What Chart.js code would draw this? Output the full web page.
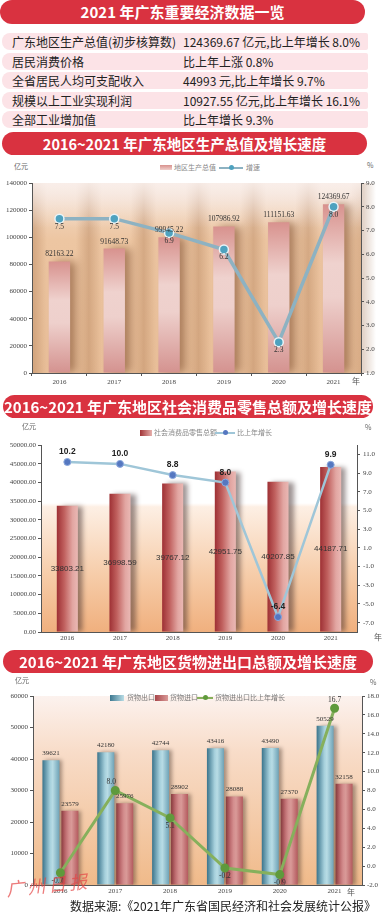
<!DOCTYPE html>
<html><head><meta charset="utf-8">
<script src="https://cdn.jsdelivr.net/npm/chart.js@4/dist/chart.umd.min.js"></script>
<style>
html,body{margin:0;padding:0;}
body{width:382px;height:914px;overflow:hidden;background:#fff;position:relative;font-family:"Noto Sans CJK SC","Noto Sans",sans-serif;}
.banner{position:absolute;background:#d93240;color:#fff;font-weight:bold;text-align:center;border-radius:12px;white-space:nowrap;}
.row{position:absolute;left:2px;width:366px;height:17px;line-height:17px;background:#fce3e7;border-radius:8px 2px 2px 8px;font-size:12px;color:#222;white-space:nowrap;}
.row .l{position:absolute;left:10px;top:0;}
.row .r{position:absolute;left:181px;top:0;}
.box{position:absolute;left:0;width:382px;}
.t{position:absolute;white-space:nowrap;color:#666;font-size:7px;line-height:9px;}
.sw{position:absolute;}
.ln{position:absolute;height:2px;}
.dot{position:absolute;border-radius:50%;}
</style></head>
<body>
<div class="banner" style="left:0;top:0;width:365px;height:24px;line-height:24px;font-size:15px;">2021 年广东重要经济数据一览</div>
<div class="row" style="top:33px;"><span class="l">广东地区生产总值(初步核算数)</span><span class="r">124369.67 亿元,比上年增长 8.0%</span></div>
<div class="row" style="top:52.5px;"><span class="l">居民消费价格</span><span class="r">比上年上涨 0.8%</span></div>
<div class="row" style="top:72px;"><span class="l">全省居民人均可支配收入</span><span class="r">44993 元,比上年增长 9.7%</span></div>
<div class="row" style="top:91.5px;"><span class="l">规模以上工业实现利润</span><span class="r">10927.55 亿元,比上年增长 16.1%</span></div>
<div class="row" style="top:111px;"><span class="l">全部工业增加值</span><span class="r">比上年增长 9.3%</span></div>

<div class="banner" style="left:2px;top:132px;width:365px;height:23px;line-height:23px;font-size:14.5px;">2016~2021 年广东地区生产总值及增长速度</div>
<div class="t" style="left:14px;top:162px;">亿元</div>
<div class="sw" style="left:160px;top:165px;width:12px;height:5px;background:linear-gradient(#d8918d,#f0d0cc);"></div>
<div class="t" style="left:174px;top:163px;color:#888;">地区生产总值</div>
<div class="ln" style="left:219px;top:167px;width:24px;background:#8db2c2;"></div>
<div class="dot" style="left:229px;top:165px;width:5px;height:5px;background:#4ea2bf;"></div>
<div class="t" style="left:246px;top:163px;color:#888;">增速</div>
<div class="t" style="left:367px;top:161px;">%</div>
<div class="box" id="b1" style="top:175px;height:217px;"><canvas id="c1"></canvas></div>
<div class="t" style="left:352px;top:376px;font-size:8px;color:#555;">年</div>

<div class="banner" style="left:3px;top:395px;width:370px;height:23px;line-height:23px;font-size:15px;">2016~2021 年广东地区社会消费品零售总额及增长速度</div>
<div class="t" style="left:22px;top:422px;">亿元</div>
<div class="sw" style="left:140px;top:430px;width:12px;height:6px;background:linear-gradient(90deg,#a23538,#e6b0ac);"></div>
<div class="t" style="left:154px;top:428px;color:#888;">社会消费品零售总额</div>
<div class="ln" style="left:215px;top:432px;width:20px;background:#9fc6d8;"></div>
<div class="dot" style="left:223px;top:430px;width:5px;height:5px;background:#5577c0;"></div>
<div class="t" style="left:237px;top:428px;color:#888;">比上年增长</div>
<div class="t" style="left:365px;top:423px;">%</div>
<div class="box" id="b2" style="top:438px;height:207px;"><canvas id="c2"></canvas></div>
<div class="t" style="left:374px;top:632px;font-size:8px;color:#555;">年</div>

<div class="banner" style="left:3px;top:650px;width:370px;height:23px;line-height:23px;font-size:15px;">2016~2021 年广东地区货物进出口总额及增长速度</div>
<div class="t" style="left:15px;top:676px;">亿元</div>
<div class="t" style="left:370px;top:678px;">%</div>
<div class="box" id="b3" style="top:688px;height:210px;"><canvas id="c3"></canvas></div>
<div class="sw" style="left:110px;top:695px;width:14px;height:6px;background:linear-gradient(90deg,#3d7890,#b9dde6);z-index:2;"></div>
<div class="t" style="left:127px;top:693px;color:#777;z-index:2;">货物出口</div>
<div class="sw" style="left:155px;top:695px;width:13px;height:6px;background:linear-gradient(90deg,#a8464a,#d99a98);z-index:2;"></div>
<div class="t" style="left:170px;top:693px;color:#777;z-index:2;">货物进口</div>
<div class="ln" style="left:197px;top:697px;width:16px;background:#86b05c;z-index:2;"></div>
<div class="dot" style="left:203px;top:695px;width:5px;height:5px;background:#5f9a3c;z-index:2;"></div>
<div class="t" style="left:215px;top:693px;color:#777;z-index:2;">货物进出口比上年增长</div>
<div class="t" style="left:347px;top:887px;font-size:8px;color:#555;">年</div>
<div class="t" style="left:6px;top:873px;font-size:18px;line-height:22px;color:rgba(228,70,70,0.7);font-style:italic;transform:rotate(-6deg);letter-spacing:3px;">广州日报</div>
<div class="t" style="left:70px;top:899px;font-size:12px;line-height:14px;color:#222;">数据来源:《2021年广东省国民经济和社会发展统计公报》</div>

<script>
// ---- data ----
const years = ['2016','2017','2018','2019','2020','2021'];
const gdpValues = [82163.22, 91648.73, 99945.22, 107986.92, 111151.63, 124369.67];
const gdpGrowth = [7.5, 7.5, 6.9, 6.2, 2.3, 8.0];
const retailValues = [33803.21, 36998.59, 39767.12, 42951.75, 40207.85, 44187.71];
const retailGrowth = [10.2, 10.0, 8.8, 8.0, -6.4, 9.9];
const exportValues = [39621, 42180, 42744, 43416, 43490, 50529];
const importValues = [23579, 25976, 28902, 28088, 27370, 32158];
const tradeGrowth = [-0.7, 8.0, 5.1, -0.2, -0.9, 16.7];
const retailRightTicks = [11, 9, 7, 5, 3, 1, -1, -3, -5, -7];

Chart.defaults.animation = false;
Chart.defaults.font.family = 'Liberation Serif';
Chart.defaults.font.size = 7;
Chart.defaults.color = '#444';

// ---- plugins ----
const labelPlugin = {
  id: 'vlabels',
  afterDatasetsDraw(chart) {
    const ctx = chart.ctx;
    chart.data.datasets.forEach((ds, i) => {
      const o = ds.vl; if (!o) return;
      const meta = chart.getDatasetMeta(i);
      meta.data.forEach((el, j) => {
        const txt = o.fmt(ds.data[j]);
        const pos = Array.isArray(o.pos) ? o.pos[j] : o.pos;
        const x = el.x + (o.dx ? o.dx[j] : 0);
        let y;
        if (pos === 'center') y = (el.y + el.base) / 2;
        else if (pos === 'above') y = el.y - o.off;
        else y = el.y + o.off;
        ctx.save();
        ctx.font = o.font; ctx.fillStyle = o.color;
        ctx.textAlign = 'center'; ctx.textBaseline = 'middle';
        ctx.fillText(txt, x, y);
        ctx.restore();
      });
    });
  }
};
const shadowPlugin = {
  id: 'barShadow',
  beforeDatasetDraw(chart, args) {
    const ds = chart.data.datasets[args.index];
    if (!ds.shadow) return;
    const c = chart.ctx; c.save();
    c.shadowColor = ds.shadow.color; c.shadowOffsetX = ds.shadow.x;
    c.shadowOffsetY = ds.shadow.y || 0; c.shadowBlur = ds.shadow.blur;
  },
  afterDatasetDraw(chart, args) {
    const ds = chart.data.datasets[args.index];
    if (!ds.shadow) return;
    chart.ctx.restore();
  }
};
function bgPlugin(stops, stripe) {
  return {
    id: 'bgfill',
    beforeDraw(chart) {
      const a = chart.chartArea; if (!a) return;
      const c = chart.ctx;
      const g = c.createLinearGradient(0, a.top, 0, a.bottom);
      stops.forEach(s => g.addColorStop(s[0], s[1]));
      c.save(); c.fillStyle = g; c.fillRect(a.left, a.top, a.right - a.left, a.bottom - a.top);
      if (stripe) {
        const xs = chart.scales.x;
        const n = years.length;
        const cw = xs.width / n;
        for (let i = 0; i <= n; i++) {
          const bx = xs.left + i * cw + stripe.shift;
          const w = stripe.width;
          const hg = c.createLinearGradient(bx - w / 2, 0, bx + w / 2, 0);
          hg.addColorStop(0, 'rgba(150,95,55,0)');
          hg.addColorStop(0.5, stripe.color);
          hg.addColorStop(1, 'rgba(150,95,55,0)');
          c.fillStyle = hg;
          c.fillRect(Math.max(a.left, bx - w / 2), a.top + stripe.topOff, w, a.bottom - a.top - stripe.topOff);
        }
        const tg = c.createLinearGradient(0, a.top, 0, a.top + 45);
        tg.addColorStop(0, 'rgba(250,240,236,0.85)');
        tg.addColorStop(1, 'rgba(250,240,236,0)');
        c.fillStyle = tg; c.fillRect(a.left, a.top, a.right - a.left, 45);
      }
      c.restore();
    }
  };
}
const fixW = w => (s => { s.width = w; });
const fixH = h => (s => { s.height = h; });

function axisY(opts) {
  return Object.assign({
    border: { display: true, color: '#555', width: 1 },
    grid: { drawOnChartArea: false, drawTicks: true, tickLength: 3, color: '#555' },
    ticks: { padding: 2, color: '#444', font: { size: 7 } }
  }, opts);
}

// ---- chart 1 ----
new Chart(document.getElementById('c1'), {
  data: {
    labels: years,
    datasets: [
      {
        type: 'line', label: '增速', data: gdpGrowth, yAxisID: 'y1', order: 0,
        borderColor: '#8db2c2', borderWidth: 3.5, tension: 0,
        pointRadius: 4.5, pointBackgroundColor: '#4ea2bf', pointBorderColor: '#e8f4f8', pointBorderWidth: 1.5,
        vl: { pos: 'below', off: 8, font: '7.5px "Liberation Serif"', color: '#333', fmt: v => v.toFixed(1) }
      },
      {
        type: 'bar', label: '地区生产总值', data: gdpValues, yAxisID: 'y', order: 1,
        categoryPercentage: 0.39, barPercentage: 1,
        backgroundColor: (ctx) => {
          const ch = ctx.chart; if (!ch.chartArea) return '#dca09c';
          const ys = ch.scales.y;
          const top = ys.getPixelForValue(gdpValues[ctx.dataIndex]);
          const base = ys.getPixelForValue(0);
          const g = ch.ctx.createLinearGradient(0, top, 0, base);
          g.addColorStop(0, '#d8928e'); g.addColorStop(0.35, '#efd2ce');
          g.addColorStop(0.55, '#eed0cc'); g.addColorStop(1, '#d4928f');
          return g;
        },
        shadow: { color: 'rgba(110,60,30,0.5)', x: 6, blur: 9 },
        vl: { pos: 'above', off: 7, font: '7.5px "Liberation Serif"', color: '#333', fmt: v => v.toFixed(2) }
      }
    ]
  },
  options: {
    responsive: true, maintainAspectRatio: false, devicePixelRatio: 1,
    layout: { padding: { top: 8, left: 0, right: 0, bottom: 0 } },
    plugins: { legend: { display: false }, tooltip: { enabled: false } },
    scales: {
      x: {
        afterFit: fixH(19),
        border: { display: true, color: '#555' },
        grid: { drawOnChartArea: false, drawTicks: true, tickLength: 3, color: '#555' },
        ticks: { padding: 2, color: '#444', font: { size: 7 } }
      },
      y: axisY({ position: 'left', min: 0, max: 140000, afterFit: fixW(32),
        ticks: { stepSize: 20000, padding: 2, color: '#444', font: { size: 7 }, callback: v => String(v) } }),
      y1: axisY({ position: 'right', min: 1, max: 9, afterFit: fixW(21),
        ticks: { stepSize: 1, padding: 2, color: '#444', font: { size: 7 }, callback: v => v.toFixed(1) } })
    }
  },
  plugins: [bgPlugin([[0, '#f3e2d8'], [0.15, '#f0d2b8'], [0.3, '#edc6a2'], [1, '#eac09a']],
                     { shift: 2, width: 26, color: 'rgba(150,95,55,0.28)', topOff: 0 }), shadowPlugin, labelPlugin]
});

// ---- chart 2 ----
new Chart(document.getElementById('c2'), {
  data: {
    labels: years,
    datasets: [
      {
        type: 'line', label: '比上年增长', data: retailGrowth, yAxisID: 'y1', order: 0,
        borderColor: '#9fc6d8', borderWidth: 2.5, tension: 0,
        pointRadius: 3.5, pointBackgroundColor: '#5577c0', pointBorderColor: '#8aa8dd', pointBorderWidth: 1,
        vl: { pos: 'above', off: 10, font: 'bold 8.5px "Liberation Sans"', color: '#222', fmt: v => v.toFixed(1) }
      },
      {
        type: 'bar', label: '社会消费品零售总额', data: retailValues, yAxisID: 'y', order: 1,
        categoryPercentage: 0.4, barPercentage: 1,
        backgroundColor: (ctx) => {
          const ch = ctx.chart; if (!ch.chartArea) return '#c06060';
          const xs = ch.scales.x;
          const cx = xs.getPixelForValue(ctx.dataIndex);
          const w = xs.width / years.length * 0.4;
          const g = ch.ctx.createLinearGradient(cx - w / 2, 0, cx + w / 2, 0);
          g.addColorStop(0, '#9e3034'); g.addColorStop(0.35, '#c0605e');
          g.addColorStop(0.75, '#e2a6a2'); g.addColorStop(1, '#eab8b4');
          return g;
        },
        shadow: { color: 'rgba(60,40,40,0.5)', x: 5, blur: 5 },
        vl: { pos: 'center', font: '8px "Liberation Sans"', color: '#333', fmt: v => v.toFixed(2) }
      }
    ]
  },
  options: {
    responsive: true, maintainAspectRatio: false, devicePixelRatio: 1,
    layout: { padding: { top: 7, left: 0, right: 0, bottom: 0 } },
    plugins: { legend: { display: false }, tooltip: { enabled: false } },
    scales: {
      x: {
        afterFit: fixH(13),
        border: { display: true, color: '#555' },
        grid: { drawOnChartArea: false, drawTicks: false, color: '#555' },
        ticks: { padding: 2, color: '#444', font: { size: 7 } }
      },
      y: axisY({ position: 'left', min: 0, max: 50000, afterFit: fixW(41),
        ticks: { stepSize: 5000, padding: 2, color: '#444', font: { size: 7 }, callback: v => v.toFixed(2) } }),
      y1: axisY({ position: 'right', min: -8, max: 12, afterFit: fixW(25),
        afterBuildTicks: s => { s.ticks = retailRightTicks.map(v => ({ value: v })); },
        ticks: { padding: 3, color: '#444', font: { size: 7 }, callback: v => v.toFixed(1) } })
    }
  },
  plugins: [bgPlugin([[0, '#ffffff'], [0.31, '#ffffff'], [0.33, '#fdefe4'], [0.7, '#f6cca8'], [1, '#f0b07e']]), shadowPlugin, labelPlugin]
});

// ---- chart 3 ----
const cp3 = 0.69, bp3 = 0.9;
function barGrad3(side, stops) {
  return (ctx) => {
    const ch = ctx.chart; if (!ch.chartArea) return stops[0][1];
    const xs = ch.scales.x;
    const cw = xs.width / years.length;
    const slot = cw * cp3 / 2;
    const cx = xs.getPixelForValue(ctx.dataIndex) + side * slot / 2;
    const w = slot * bp3;
    const g = ch.ctx.createLinearGradient(cx - w / 2, 0, cx + w / 2, 0);
    stops.forEach(s => g.addColorStop(s[0], s[1]));
    return g;
  };
}
new Chart(document.getElementById('c3'), {
  data: {
    labels: years,
    datasets: [
      {
        type: 'line', label: '货物进出口比上年增长', data: tradeGrowth, yAxisID: 'y1', order: 0,
        borderColor: '#86b05c', borderWidth: 3, tension: 0,
        pointRadius: 3, pointBackgroundColor: '#5f9a3c', pointBorderColor: '#5f9a3c',
        vl: { pos: ['below', 'above', 'below', 'below', 'below', 'above'], off: 8, dx: [-3, -4, 0, 0, 0, 0],
              font: '7.5px "Liberation Serif"', color: '#333', fmt: v => v.toFixed(1) }
      },
      {
        type: 'bar', label: '货物出口', data: exportValues, yAxisID: 'y', order: 1,
        categoryPercentage: cp3, barPercentage: bp3,
        backgroundColor: barGrad3(-1, [[0, '#3a748c'], [0.45, '#a6d0dc'], [0.6, '#b8dce5'], [1, '#6ea2b6']]),
        shadow: { color: 'rgba(70,50,40,0.45)', x: 3, blur: 4 },
        vl: { pos: 'above', off: 7, font: '7px "Liberation Serif"', color: '#333', fmt: v => String(v) }
      },
      {
        type: 'bar', label: '货物进口', data: importValues, yAxisID: 'y', order: 1,
        categoryPercentage: cp3, barPercentage: bp3,
        backgroundColor: barGrad3(1, [[0, '#a4424a'], [0.45, '#d48e8e'], [0.6, '#d99a98'], [1, '#b45a5e']]),
        shadow: { color: 'rgba(70,50,40,0.45)', x: 3, blur: 4 },
        vl: { pos: 'above', off: 7, font: '7px "Liberation Serif"', color: '#333', fmt: v => String(v) }
      }
    ]
  },
  options: {
    responsive: true, maintainAspectRatio: false, devicePixelRatio: 1,
    layout: { padding: { top: 8, left: 0, right: 0, bottom: 0 } },
    plugins: { legend: { display: false }, tooltip: { enabled: false } },
    scales: {
      x: {
        afterFit: fixH(13),
        border: { display: true, color: '#555' },
        grid: { drawOnChartArea: false, drawTicks: false, color: '#555' },
        ticks: { padding: 2, color: '#444', font: { size: 7 } }
      },
      y: axisY({ position: 'left', min: 0, max: 60000, afterFit: fixW(33),
        ticks: { stepSize: 10000, padding: 2, color: '#444', font: { size: 7 }, callback: v => String(v) } }),
      y1: axisY({ position: 'right', min: -2, max: 18, afterFit: fixW(20),
        ticks: { stepSize: 2, padding: 2, color: '#444', font: { size: 7 }, callback: v => v.toFixed(1) } })
    }
  },
  plugins: [bgPlugin([[0, '#fcf2ee'], [0.3, '#f8dcc8'], [1, '#f0ba8a']]), shadowPlugin, labelPlugin]
});
</script>
</body></html>
